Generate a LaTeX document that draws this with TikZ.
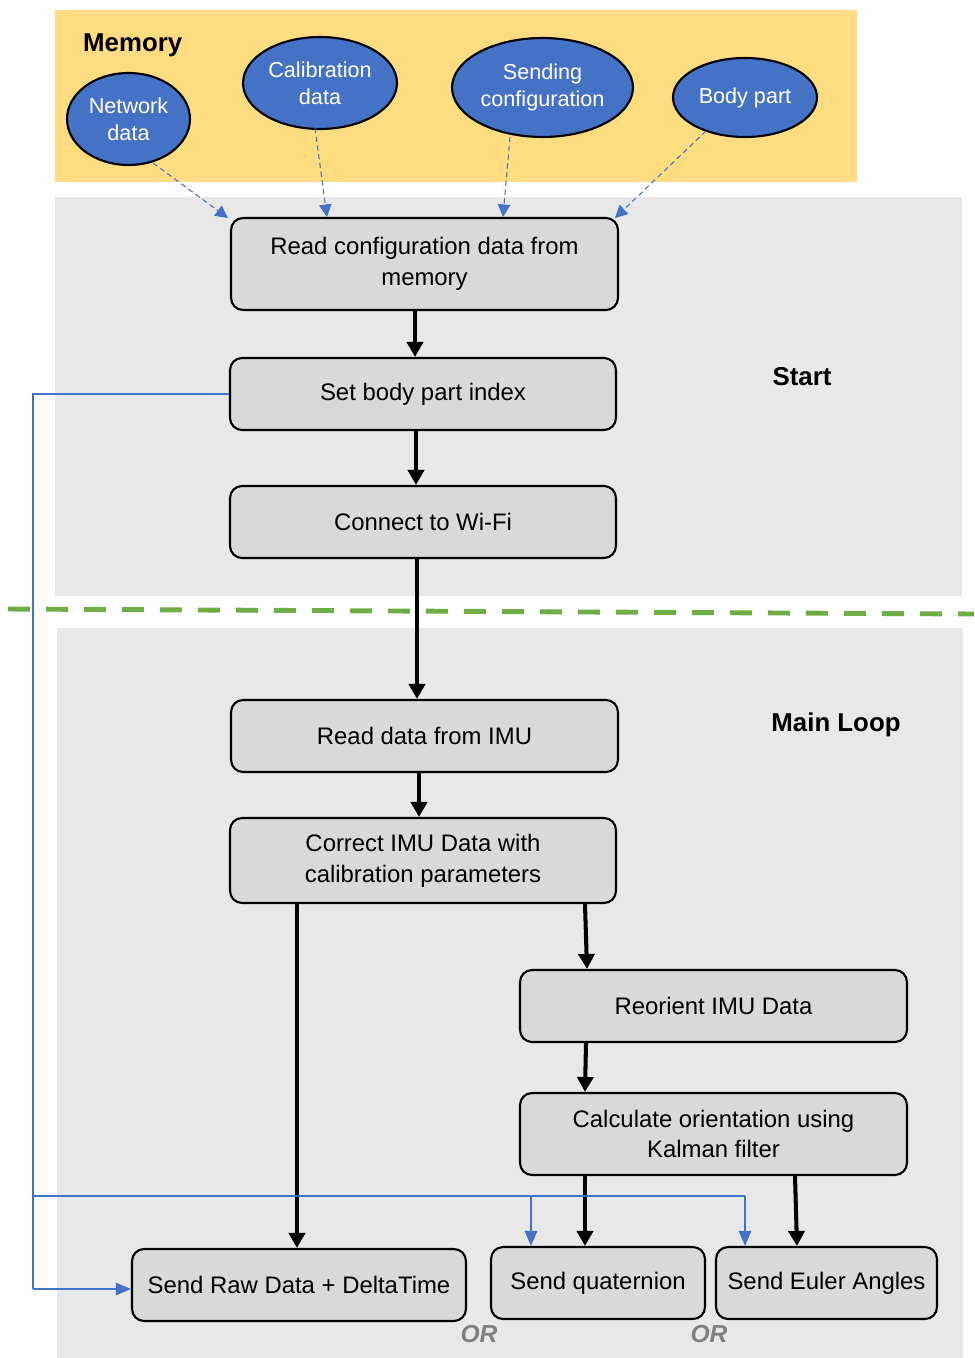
\documentclass[tikz,border=0pt]{standalone}
\usepackage{fontspec}
\setmainfont{Liberation Sans}
\usetikzlibrary{shapes.geometric,arrows.meta}
\definecolor{memyellow}{HTML}{FFDC82}
\definecolor{zonegray}{HTML}{E8E8E8}
\definecolor{boxgray}{HTML}{D9D9D9}
\definecolor{dataBlue}{HTML}{4472C4}
\definecolor{sepgreen}{HTML}{70AD47}
\definecolor{orgray}{HTML}{808080}
\tikzset{
  stepbox/.style={draw=black, line width=1.2pt, rounded corners=0.24cm, fill=boxgray,
    align=center, inner sep=0pt, font=\fontsize{13.6}{17.5}\selectfont},
  datanode/.style={ellipse, draw=black, line width=1.2pt, fill=dataBlue, text=white,
    align=center, inner sep=0pt, font=\fontsize{12.3}{15.5}\selectfont},
  flow/.style={line width=2.3pt, -{Triangle[width=0.32cm,length=0.3cm]}},
  memlink/.style={dataBlue, line width=0.6pt, dash pattern=on 3pt off 2pt,
    -{Triangle[width=0.25cm,length=0.25cm]}},
  cfglink/.style={dataBlue, line width=0.6pt},
  cfgarrow/.style={cfglink, -{Triangle[width=0.25cm,length=0.3cm]}},
  zonelabel/.style={font=\bfseries\fontsize{14.7}{17}\selectfont},
  orlabel/.style={text=orgray, font=\bfseries\itshape\fontsize{14}{16}\selectfont}
}
\begin{document}
\begin{tikzpicture}[x=0.02cm, y=-0.02cm]
\useasboundingbox (0,0) rectangle (974,1358);

% zones
\fill[memyellow] (55,10) rectangle (857,182);
\fill[zonegray] (55,197) rectangle (962,596);
\fill[zonegray] (57,628) rectangle (963,1358);
\draw[sepgreen, line width=2.8pt, dash pattern=on 0.44cm off 0.32cm] (8,609) -- (974,614);

\node[zonelabel, anchor=west] (memlabel) at (77,45) {Memory};
\node[zonelabel] (startlabel) at (802,377) {Start};
\node[zonelabel] (looplabel) at (836,725) {Main Loop};

% stored data
\node[datanode, minimum width=2.46cm, minimum height=1.84cm] (nd) at (128.5,119) {Network\\data};
\node[datanode, minimum width=3.08cm, minimum height=1.84cm] (cd) at (320,83) {Calibration\\data};
\node[datanode, minimum width=3.62cm, minimum height=1.98cm] (sc) at (542.5,87.5) {Sending\\configuration};
\node[datanode, minimum width=2.88cm, minimum height=1.58cm] (bp) at (745,97.5) {Body part};

% steps
\node[stepbox, minimum width=7.74cm, minimum height=1.84cm] (rc) at (424.5,264) {Read configuration data from\\memory};
\node[stepbox, minimum width=7.72cm, minimum height=1.44cm] (sb) at (423,394) {Set body part index};
\node[stepbox, minimum width=7.72cm, minimum height=1.44cm] (cw) at (423,522) {Connect to Wi-Fi};
\node[stepbox, minimum width=7.74cm, minimum height=1.44cm] (ri) at (424.5,736) {Read data from IMU};
\node[stepbox, minimum width=7.72cm, minimum height=1.70cm] (ci) at (423,860.5) {Correct IMU Data with\\calibration parameters};
\node[stepbox, minimum width=7.74cm, minimum height=1.44cm] (ro) at (713.5,1006) {Reorient IMU Data};
\node[stepbox, minimum width=7.74cm, minimum height=1.64cm] (co) at (713.5,1134) {Calculate orientation using\\Kalman filter};
\node[stepbox, minimum width=6.68cm, minimum height=1.44cm] (sr) at (299,1285) {Send Raw Data + DeltaTime};
\node[stepbox, minimum width=4.28cm, minimum height=1.44cm] (sq) at (598,1283) {Send quaternion};
\node[stepbox, minimum width=4.42cm, minimum height=1.44cm] (se) at (826.5,1283) {Send Euler Angles};

\node[orlabel] (or1) at (479,1334) {OR};
\node[orlabel] (or2) at (709,1334) {OR};

% memory reads
\coordinate (ndout) at (153,163);
\coordinate (cdout) at (315,128);
\coordinate (scout) at (510,137);
\coordinate (bpout) at (706,131);
\draw[memlink] (ndout) -- (228,218);
\draw[memlink] (cdout) -- (rc.north -| 327,0);
\draw[memlink] (scout) -- (rc.north -| 503,0);
\draw[memlink] (bpout) -- (615,218);

% main flow
\coordinate (c415) at (415,0);
\coordinate (c416) at (416,0);
\coordinate (c417) at (417,0);
\coordinate (c419) at (419,0);
\coordinate (c297) at (297,0);
\coordinate (c585) at (585,0);
\coordinate (c587) at (587,0);
\coordinate (c586) at (586,0);
\coordinate (c795) at (795,0);
\coordinate (c797) at (797,0);
\draw[flow] (rc.south -| c415) -- (sb.north -| c415);
\draw[flow] (sb.south -| c416) -- (cw.north -| c416);
\draw[flow] (cw.south -| c417) -- (ri.north -| c417);
\draw[flow] (ri.south -| c419) -- (ci.north -| c419);
\draw[flow] (ci.south -| c297) -- (sr.north -| c297);
\draw[flow] (ci.south -| c585) -- (ro.north -| c587);
\draw[flow] (ro.south -| c586) -- (co.north -| c585);
\draw[flow] (co.south -| c585) -- (sq.north -| c585);
\draw[flow] (co.south -| c795) -- (se.north -| c797);

% body part index routing
\coordinate (lft) at (33,0);
\coordinate (bus) at (33,1196);
\coordinate (q531) at (531,1196);
\coordinate (e745) at (745,1196);
\coordinate (rawin) at (33,1289);
\draw[cfglink] (sb.west) -- (sb.west -| lft) -- (rawin);
\draw[cfgarrow] (rawin) -- (sr.west |- rawin);
\draw[cfglink] (bus) -- (e745);
\draw[cfgarrow] (q531) -- (sq.north -| q531);
\draw[cfgarrow] (e745) -- (se.north -| e745);
\end{tikzpicture}
\end{document}
